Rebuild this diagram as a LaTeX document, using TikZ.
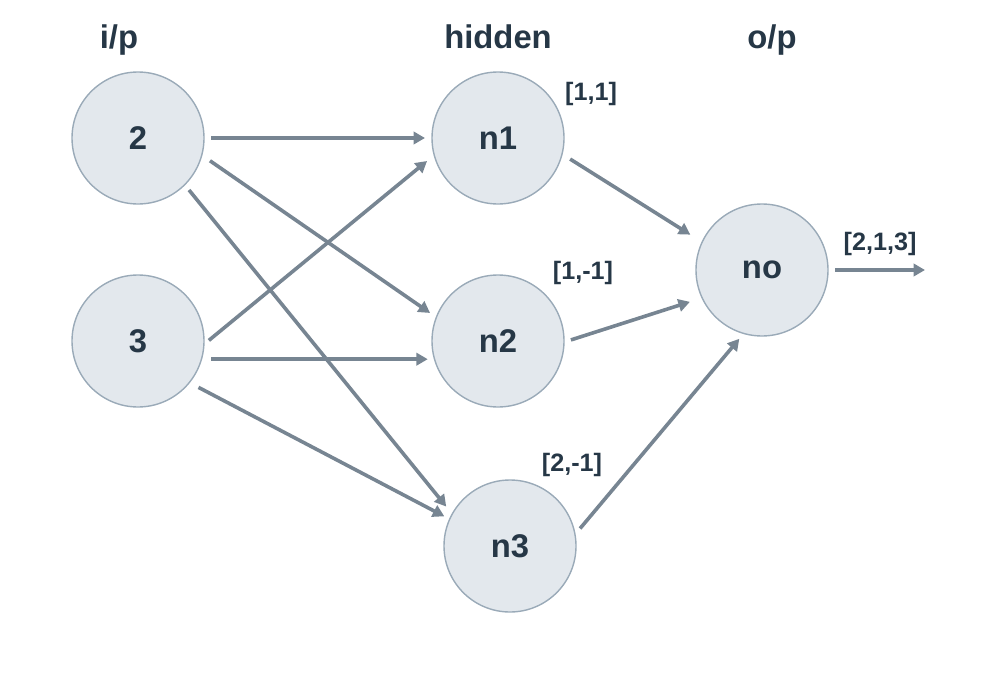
\documentclass[tikz,border=0pt]{standalone}
\usepackage{fontspec}
\setmainfont{Liberation Sans}
\usetikzlibrary{arrows.meta}
\newdimen\pxu
\pxu=0.8536pt
\definecolor{nodefill}{HTML}{E3E8ED}
\definecolor{nodeedge}{HTML}{9AAAB8}
\definecolor{wire}{HTML}{778592}
\definecolor{ink}{HTML}{263746}
\tikzset{
  neuron/.style={circle, draw=nodeedge, fill=nodefill, line width=1.4\pxu,
    minimum size=132\pxu, inner sep=0pt, outer sep=0pt, text=ink,
    font=\fontsize{28}{30}\selectfont\bfseries},
  layer/.style={anchor=base, text=ink, font=\fontsize{28}{30}\selectfont\bfseries},
  weight/.style={anchor=base, text=ink, font=\fontsize{21.5}{23}\selectfont\bfseries},
  link/.style={draw=wire, line width=3.6\pxu,
    -{Triangle[length=9.8pt, width=10.6pt]}},
}
\begin{document}
\begin{tikzpicture}[x=\pxu, y=-\pxu]
  \useasboundingbox (0,0) rectangle (983,696);

  % layer headings
  \node[layer] (hin)  at (119,49) {i/p};
  \node[layer] (hhid) at (498,49) {hidden};
  \node[layer] (hout) at (772,49) {o/p};

  % neurons
  \node[neuron] (i2) at (138,138) {2};
  \node[neuron] (i3) at (138,341) {3};
  \node[neuron] (n1) at (498,138) {n1};
  \node[neuron] (n2) at (498,341) {n2};
  \node[neuron] (n3) at (510,546) {n3};
  \node[neuron] (no) at (762,270) {no};
  \coordinate (out) at (925,270);

  % weight vectors
  \node[weight] (w1) at (591,100) {[1,1]};
  \node[weight] (w2) at (583,279) {[1,-1]};
  \node[weight] (w3) at (572,471) {[2,-1]};
  \node[weight] (w4) at (880,250) {[2,1,3]};

  % input -> hidden
  \draw[link, shorten <=7\pxu,    shorten >=7\pxu]    (i2.east)  -- (n1.west);
  \draw[link, shorten <=10\pxu,   shorten >=7.7\pxu]  (i2.-15.2) -- (n2.159);
  \draw[link, shorten <=6.9\pxu,  shorten >=9.6\pxu]  (i2.-45)   -- (n3.151.5);
  \draw[link, shorten <=6.4\pxu,  shorten >=9.3\pxu]  (i3.-3.5)  -- (n1.195);
  \draw[link, shorten <=9.8\pxu,  shorten >=6.8\pxu]  (i3.-16.7) -- (n2.196.7);
  \draw[link, shorten <=10.4\pxu, shorten >=6.1\pxu]  (i3.-39.7) -- (n3.156.6);

  % hidden -> output
  \draw[link, shorten <=9.6\pxu,  shorten >=14\pxu]   (n1.-14.8) -- (no.155.4);
  \draw[link, shorten <=7.3\pxu,  shorten >=12.9\pxu] (n2.-1)    -- (no.205.2);
  \draw[link, shorten <=7.9\pxu,  shorten >=7\pxu]    (n3.10.5)  -- (no.254.6);

  % output
  \draw[link, shorten <=7\pxu] (no.east) -- (out);
\end{tikzpicture}
\end{document}
